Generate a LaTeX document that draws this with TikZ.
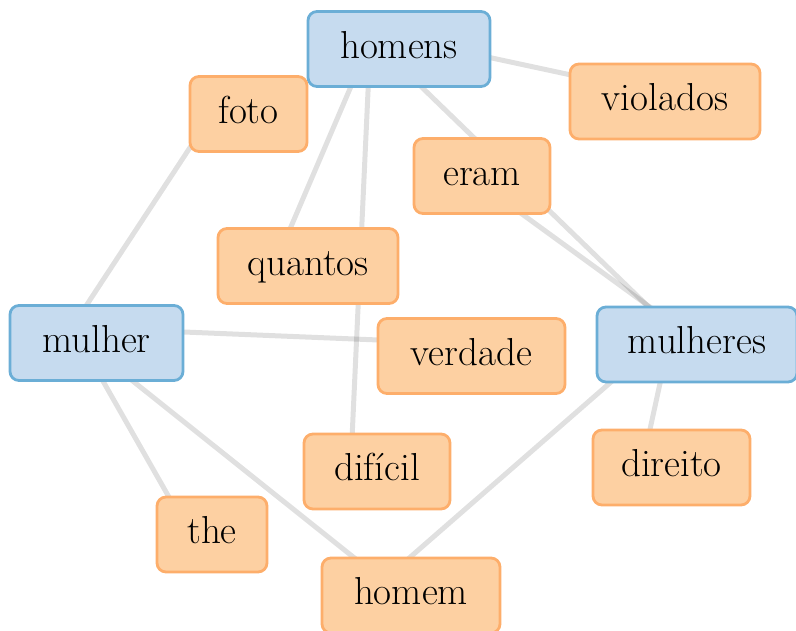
\documentclass[tikz,border=0pt]{standalone}
\usetikzlibrary{calc,backgrounds}

\definecolor{hubfill}{RGB}{198,219,239}
\definecolor{hubline}{RGB}{107,174,214}
\definecolor{wordfill}{RGB}{253,208,162}
\definecolor{wordline}{RGB}{253,174,107}

\begin{document}
\begin{tikzpicture}[
    x=1pt, y=-1pt,
    box/.style = {rectangle, rounded corners=9pt, line width=2.8pt, minimum height=75pt,
                  text height=26pt, text depth=8pt, font=\fontsize{39}{46}\selectfont},
    hub/.style = {box, draw=hubline, fill=hubfill},
    word/.style = {box, draw=wordline, fill=wordfill},
    link/.style = {draw=black, opacity=0.12, line width=5pt}
    ]
    \useasboundingbox (0,0) rectangle (796,630);

    \node[hub, minimum width=182pt] (homens) at (399,49) {homens};
    \node[hub, minimum width=173pt] (mulher) at (96.5,343) {mulher};
    \node[hub, minimum width=200pt] (mulheres) at (697,344.5) {mulheres};
    \node[word, minimum width=117pt] (foto) at (248.5,114) {foto};
    \node[word, minimum width=190pt] (violados) at (665,101.5) {violados};
    \node[word, minimum width=136pt] (eram) at (482,176) {eram};
    \node[word, minimum width=180pt] (quantos) at (308,266) {quantos};
    \node[word, minimum width=187pt] (verdade) at (471.5,356) {verdade};
    \node[word, minimum width=146pt] (dificil) at (377,471.5) {difícil};
    \node[word, minimum width=157pt] (direito) at (671.5,467.5) {direito};
    \node[word, minimum width=110pt] (the) at (212,534.5) {the};
    \node[word, minimum width=178pt] (homem) at (411,595.5) {homem};

    \begin{scope}[on background layer]
    \draw[link] ($(homens)+(51,0)$) -- ($(violados)+(-45,-16)$);
    \draw[link] ($(homens)+(-41,21)$) -- ($(quantos)+(-27,-16)$);
    \draw[link] ($(homens)+(-30,21)$) -- ($(dificil)+(-26,-11)$);
    \draw[link] ($(homens)+(5,21)$) -- ($(mulheres)+(-24.5,-14.5)$);
    \draw[link] ($(eram)+(7,14)$) -- ($(mulheres)+(-15.5,-14.5)$);
    \draw[link] ($(foto)+(-47,16)$) -- ($(mulher)+(-23,-18)$);
    \draw[link] ($(mulher)+(53.5,-12.4)$) -- ($(verdade)+(-51.5,-14.3)$);
    \draw[link] ($(mulher)+(-5.5,17)$) -- ($(the)+(-30,-14.5)$);
    \draw[link] ($(mulher)+(10,17)$) -- ($(homem)+(-29,-15.5)$);
    \draw[link] ($(mulheres)+(-66.5,20.5)$) -- ($(homem)+(-27,-15.5)$);
    \draw[link] ($(mulheres)+(-33,20.5)$) -- ($(direito)+(-26,-17.5)$);
    \end{scope}
\end{tikzpicture}
\end{document}
